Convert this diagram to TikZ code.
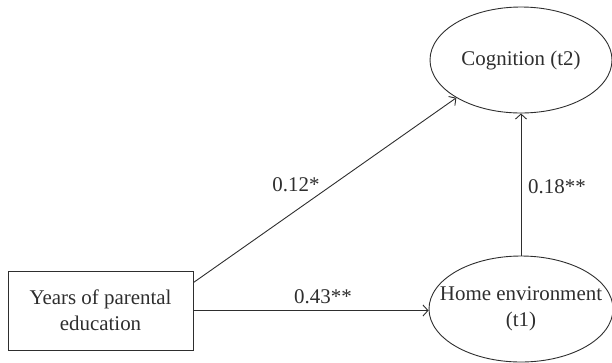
\documentclass[tikz,border=0pt]{standalone}
\usepackage{fontspec}
\setmainfont{Liberation Serif}
\usetikzlibrary{shapes.geometric,arrows.meta,calc}
\definecolor{ink}{HTML}{2E2E2E}
\begin{document}
\begin{tikzpicture}[x=1bp,y=1bp,
  every node/.style={font=\fontsize{21}{26}\selectfont, text=ink},
  box/.style={draw=ink, line width=0.9bp, minimum width=185bp, minimum height=79bp, inner sep=0pt},
  oval/.style={draw=ink, line width=0.9bp, ellipse, inner sep=0pt},
  txt/.style={align=center, inner sep=0pt},
  lbl/.style={inner sep=0pt},
  arr/.style={draw=ink, line width=0.9bp, -{Straight Barb[length=5bp,width=11bp]}}]
\useasboundingbox (0,0) rectangle (612,-362);
\node[box] (yrs) at (100.5,-310.5) {};
\node[txt] (yrstxt) at (yrs) {Years of parental\\education};
\node[oval, minimum width=184bp, minimum height=106bp] (home) at (521,-309) {};
\node[txt] (hometxt) at (home) {Home environment\\(t1)};
\node[oval, minimum width=182bp, minimum height=106bp] (cog) at (521,-60) {};
\node[txt] (cogtxt) at (cog) {Cognition (t2)};
\draw[arr] (yrs.east) -- (yrs.east -| home.west);
\draw[arr] ($(yrs.north east)+(0,-12)$) -- (cog.south west);
\draw[arr] (home.north) -- (cog.south);
\node[lbl] (l1) at (296,-185) {0.12*};
\node[lbl] (l2) at (323,-297) {0.43**};
\node[lbl] (l3) at (557,-187) {0.18**};
\end{tikzpicture}
\end{document}
